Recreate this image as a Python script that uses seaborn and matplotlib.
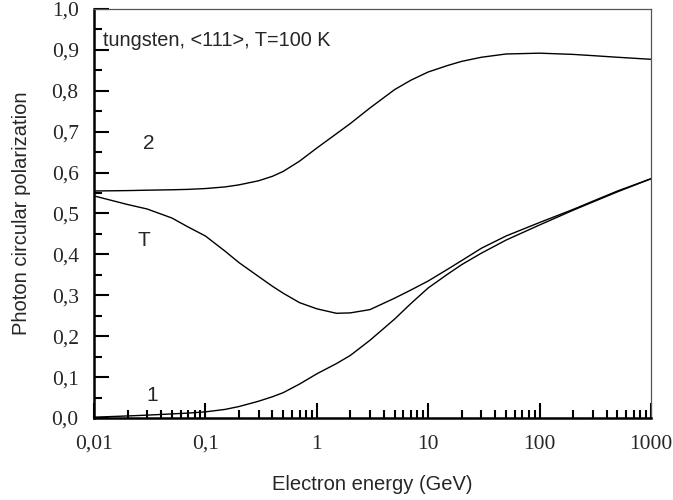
import numpy as np
import pandas as pd
import seaborn as sns
import matplotlib
matplotlib.use("Agg")
import matplotlib.pyplot as plt
from matplotlib.ticker import LogLocator, MultipleLocator, FixedLocator, FuncFormatter, NullFormatter

# electron energy (GeV)
energy = [0.01, 0.02, 0.03, 0.05, 0.07, 0.1, 0.15, 0.2, 0.3, 0.4, 0.5, 0.7, 1, 1.5, 2, 3, 5,
          7, 10, 15, 20, 30, 50, 100, 200, 300, 500, 1000]

# curve 2
pol_2 = [0.555, 0.556, 0.557, 0.558, 0.559, 0.561, 0.565, 0.570, 0.580, 0.591, 0.603, 0.628,
         0.660, 0.695, 0.720, 0.758, 0.803, 0.826, 0.846, 0.862, 0.872, 0.882, 0.890, 0.892,
         0.889, 0.886, 0.882, 0.877]

# curve T
pol_T = [0.543, 0.522, 0.511, 0.489, 0.467, 0.445, 0.408, 0.380, 0.346, 0.322, 0.305, 0.282,
         0.267, 0.256, 0.257, 0.265, 0.293, 0.313, 0.335, 0.364, 0.385, 0.415, 0.445, 0.478,
         0.510, 0.530, 0.555, 0.585]

# curve 1
pol_1 = [0.002, 0.005, 0.007, 0.010, 0.012, 0.015, 0.021, 0.028, 0.041, 0.052, 0.062, 0.083,
         0.108, 0.133, 0.153, 0.190, 0.242, 0.280, 0.318, 0.352, 0.375, 0.403, 0.435, 0.472,
         0.508, 0.528, 0.553, 0.585]

curve_labels = ["2", "T", "1"]
label_pos = [(0.031, 0.672), (0.028, 0.435), (0.033, 0.054)]

x_ticks = [0.01, 0.1, 1, 10, 100, 1000]
x_ticklabels = ["0,01", "0,1", "1", "10", "100", "1000"]

sns.set_style("white")
plt.rcParams['font.family'] = ['Liberation Sans', 'DejaVu Sans']

fig = plt.figure(figsize=(6.73, 5.0), dpi=100)
ax = fig.add_axes([94/673, 82/500, 557/673, 409/500])

for pol in [pol_2, pol_T, pol_1]:
    sns.lineplot(x=energy, y=pol, ax=ax, color="black", linewidth=1.0, sort=False)

ax.set_xscale("log")
ax.set_xlim(0.01, 1000)
ax.set_ylim(0, 1.0)

serif = ['Liberation Serif', 'DejaVu Serif']

ax.xaxis.set_major_locator(FixedLocator(x_ticks))
ax.xaxis.set_minor_locator(LogLocator(base=10, subs=np.arange(2, 10), numticks=20))
ax.xaxis.set_minor_formatter(NullFormatter())
ax.set_xticklabels(x_ticklabels, fontfamily=serif, fontsize=15.5)

ax.yaxis.set_major_locator(MultipleLocator(0.1))
ax.yaxis.set_minor_locator(MultipleLocator(0.05))
ax.yaxis.set_major_formatter(FuncFormatter(lambda v, p: f"{v:.1f}".replace(".", ",")))
for t in ax.get_yticklabels():
    t.set_fontfamily(serif)
    t.set_fontsize(15.5)

ax.tick_params(axis="both", which="major", direction="in", length=11, width=1.5,
               color="black", left=True, bottom=True)
ax.tick_params(axis="both", which="minor", direction="in", length=6, width=1.5,
               color="black", left=True, bottom=True)
ax.tick_params(axis="y", which="major", pad=11)
ax.tick_params(axis="x", which="major", pad=12)

for s in ["left", "bottom"]:
    ax.spines[s].set_linewidth(1.8)
    ax.spines[s].set_color("black")
for s in ["top", "right"]:
    ax.spines[s].set_linewidth(0.9)
    ax.spines[s].set_color("#555555")

ax.set_xlabel("Electron energy (GeV)", fontsize=14.5, labelpad=15)
ax.set_ylabel("Photon circular polarization", fontsize=14.5, labelpad=15)

ax.text(0.016, 0.922, "tungsten, <111>, T=100 K", transform=ax.transAxes,
        fontsize=14.3, va="center", ha="left")
for lab, (xe, yp) in zip(curve_labels, label_pos):
    ax.text(xe, yp, lab, fontsize=15, ha="center", va="center")

fig.savefig("out.png", dpi=100)
